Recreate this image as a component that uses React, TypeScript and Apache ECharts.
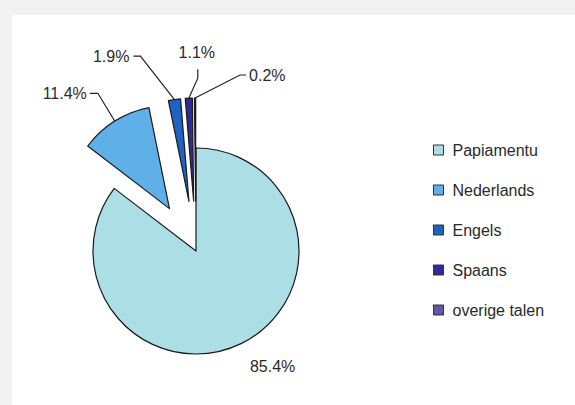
import React, { useEffect, useRef } from 'react';
import * as echarts from 'echarts';

// ---- data ----
const categories = ['Papiamentu', 'Nederlands', 'Engels', 'Spaans', 'overige talen'];
const shares = [85.4, 11.4, 1.9, 1.1, 0.2];
const exploded = [false, true, true, true, true];
const colors = ['#abdfe5', '#5fb0e8', '#1e62c4', '#302b9a', '#6555a8'];

// ---- layout ----
const CX = 196;
const CY = 251;
const R = 103;
const OFFSET = 50;
const FONT = '"Liberation Sans", Arial, sans-serif';

// label placement relative to each slice's outer anchor point
// [labelDx, labelDy, align, elbowDx, elbowDy, endDx, endDy]
const placement: [number, number, string, number, number, number, number][] = [
  [31, 23, 'center', 0, 0, 0, 0],
  [-28, -28, 'right', -17, -28, -25, -28],
  [-45, -43, 'right', -34, -43.5, -41, -43.5],
  [8, -46, 'center', 9, -20, 9, -29],
  [54, -23, 'left', 45, -23, 51, -23],
];

const total = shares.reduce((a, b) => a + b, 0);

function anchor(i: number): [number, number] {
  let before = 0;
  for (let j = 0; j < i; j++) before += shares[j];
  const mid = ((before + shares[i] / 2) / total) * 2 * Math.PI;
  const d = R + (exploded[i] ? OFFSET : 0);
  return [CX + Math.sin(mid) * d, CY - Math.cos(mid) * d];
}

export default function App() {
  const ref = useRef<HTMLDivElement>(null);

  useEffect(() => {
    if (!ref.current) return;
    const chart = echarts.init(ref.current, null, { renderer: 'svg' });
    chart.setOption({
      animation: false,
      backgroundColor: '#ffffff',
      graphic: [
        { type: 'rect', z: -10, shape: { x: 0, y: 0, width: 575, height: 15 }, style: { fill: '#f2f2f2' } },
        { type: 'rect', z: -10, shape: { x: 0, y: 15, width: 12, height: 390 }, style: { fill: '#f2f2f2' } },
      ],
      legend: {
        orient: 'vertical',
        left: 433,
        top: 140,
        padding: 0,
        itemWidth: 10,
        itemHeight: 10,
        itemGap: 20,
        icon: 'rect',
        data: categories,
        selectedMode: false,
        itemStyle: { borderColor: '#333333', borderWidth: 1 },
        textStyle: {
          fontFamily: FONT,
          fontSize: 16,
          color: '#2a2a2a',
          lineHeight: 20,
          padding: [0, 0, 0, 4],
        },
      },
      series: [
        {
          type: 'pie',
          center: [CX, CY],
          radius: R,
          startAngle: 90,
          clockwise: true,
          selectedMode: 'multiple',
          selectedOffset: OFFSET,
          silent: true,
          itemStyle: { borderColor: '#1a1a1a', borderWidth: 1.2 },
          label: { show: false },
          labelLine: { show: false },
          emphasis: { disabled: true },
          data: categories.map((name, i) => ({
            name,
            value: shares[i],
            selected: exploded[i],
            itemStyle: { color: colors[i] },
          })),
        },
        {
          type: 'pie',
          center: [CX, CY],
          radius: R,
          startAngle: 90,
          clockwise: true,
          silent: true,
          avoidLabelOverlap: false,
          itemStyle: { color: 'rgba(0,0,0,0)', borderWidth: 0 },
          emphasis: { disabled: true },
          label: {
            show: true,
            position: 'outside',
            color: '#2a2a2a',
            fontFamily: FONT,
            fontSize: 16,
            formatter: (p: any) => `${Number(p.value).toFixed(1)}%`,
          },
          labelLine: {
            show: true,
            length: 10,
            length2: 10,
            lineStyle: { color: '#222222', width: 1.2 },
          },
          labelLayout: (params: any) => {
            const i = params.dataIndex;
            const [ax, ay] = anchor(i);
            const p = placement[i];
            const out: any = {
              x: ax + p[0],
              y: ay + p[1],
              align: p[2],
              verticalAlign: 'middle',
            };
            if (i !== 0) {
              out.labelLinePoints = [
                [ax, ay],
                [ax + p[3], ay + p[4]],
                [ax + p[5], ay + p[6]],
              ];
            }
            return out;
          },
          data: categories.map((name, i) => ({
            name,
            value: shares[i],
            labelLine: { show: i !== 0 },
          })),
        },
      ],
    });
    return () => chart.dispose();
  }, []);

  return (
    <div
      ref={ref}
      style={{ position: 'fixed', left: 0, top: 0, width: 575, height: 405 }}
    />
  );
}
